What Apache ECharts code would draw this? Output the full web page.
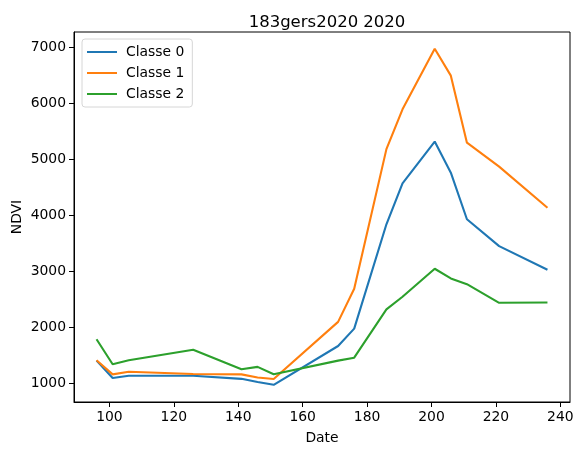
<!DOCTYPE html>
<html>
<head>
    <meta charset="UTF-8">
    <title>NDVI</title>
    <script src="https://cdn.jsdelivr.net/npm/echarts@6/dist/echarts.min.js"></script>
    <style>
        *{margin:0;padding:0}
        html,body{width:100%;height:100%;background:#fff}
        #main{width:583px;height:455px}
    </style>
</head>
<body>
    <div id="main"></div>
    <script type="text/javascript">
        // jours de l'annee
        var dates = [96, 101, 106, 126, 141, 146, 151, 171, 176, 186, 191, 201, 206, 211, 221, 236];
        var classe0 = [1410, 1100, 1140, 1140, 1085, 1030, 978, 1670, 1980, 3840, 4570, 5315, 4760, 3930, 3450, 3030];
        var classe1 = [1415, 1165, 1210, 1170, 1165, 1110, 1083, 2100, 2690, 5180, 5890, 6970, 6490, 5295, 4868, 4136];
        var classe2 = [1790, 1345, 1415, 1605, 1255, 1298, 1166, 1410, 1462, 2322, 2548, 3047, 2875, 2773, 2440, 2446];
        var xTicks = [100, 120, 140, 160, 180, 200, 220, 240];
        var yTicks = [1000, 2000, 3000, 4000, 5000, 6000, 7000];

        function pairs(vals) {
            return dates.map(function (d, i) { return [d, vals[i]]; });
        }

        var font = 'DejaVu Sans';
        var myChart = echarts.init(document.getElementById('main'));
        var option = {
            animation: false,
            title: {
                text: '183gers2020 2020',
                left: 322,
                textAlign: 'center',
                top: 9,
                textStyle: {fontFamily: font, fontSize: 16.5, fontWeight: 'normal', color: '#000'}
            },
            legend: {
                orient: 'vertical',
                left: 82,
                top: 39,
                padding: [6, 8, 6, 5],
                itemWidth: 30,
                itemHeight: 2,
                itemGap: 7,
                icon: 'rect',
                borderColor: '#d6d6d6',
                borderWidth: 1,
                borderRadius: 3,
                backgroundColor: 'rgba(255,255,255,0.8)',
                textStyle: {fontFamily: font, fontSize: 13.9, color: '#000', padding: [0, 0, 0, 4]},
                data: ['Classe 0', 'Classe 1', 'Classe 2']
            },
            grid: {
                left: 74, right: 13, top: 32, bottom: 53,
                show: true, borderColor: '#000', borderWidth: 1,
                outerBoundsMode: 'none',
                containLabel: false
            },
            xAxis: {
                type: 'value',
                min: 89, max: 243,
                name: 'Date',
                nameLocation: 'middle',
                nameGap: 29,
                nameMoveOverlap: false,
                nameTextStyle: {fontFamily: font, fontSize: 13.9, color: '#000'},
                axisLine: {lineStyle: {color: '#000', width: 1}},
                axisTick: {show: true, length: 5, lineStyle: {color: '#000'}, customValues: xTicks},
                axisLabel: {fontFamily: font, fontSize: 13.9, color: '#000', margin: 8, customValues: xTicks,
                    formatter: function (v) { return String(v); }},
                splitLine: {show: false}
            },
            yAxis: {
                type: 'value',
                min: 672, max: 7268,
                name: 'NDVI',
                nameLocation: 'middle',
                nameGap: 50,
                nameMoveOverlap: false,
                nameTextStyle: {fontFamily: font, fontSize: 13.9, color: '#000'},
                axisLine: {show: true, lineStyle: {color: '#000', width: 1}},
                axisTick: {show: true, length: 5, lineStyle: {color: '#000'}, customValues: yTicks},
                axisLabel: {fontFamily: font, fontSize: 13.9, color: '#000', margin: 8, customValues: yTicks,
                    formatter: function (v) { return String(v); }},
                splitLine: {show: false}
            },
            series: [
                {name: 'Classe 0', type: 'line', data: pairs(classe0), symbol: 'none', color: '#1f77b4', lineStyle: {width: 2.1}},
                {name: 'Classe 1', type: 'line', data: pairs(classe1), symbol: 'none', color: '#ff7f0e', lineStyle: {width: 2.1}},
                {name: 'Classe 2', type: 'line', data: pairs(classe2), symbol: 'none', color: '#2ca02c', lineStyle: {width: 2.1}}
            ]
        };
        myChart.setOption(option);
    </script>
</body>
</html>
